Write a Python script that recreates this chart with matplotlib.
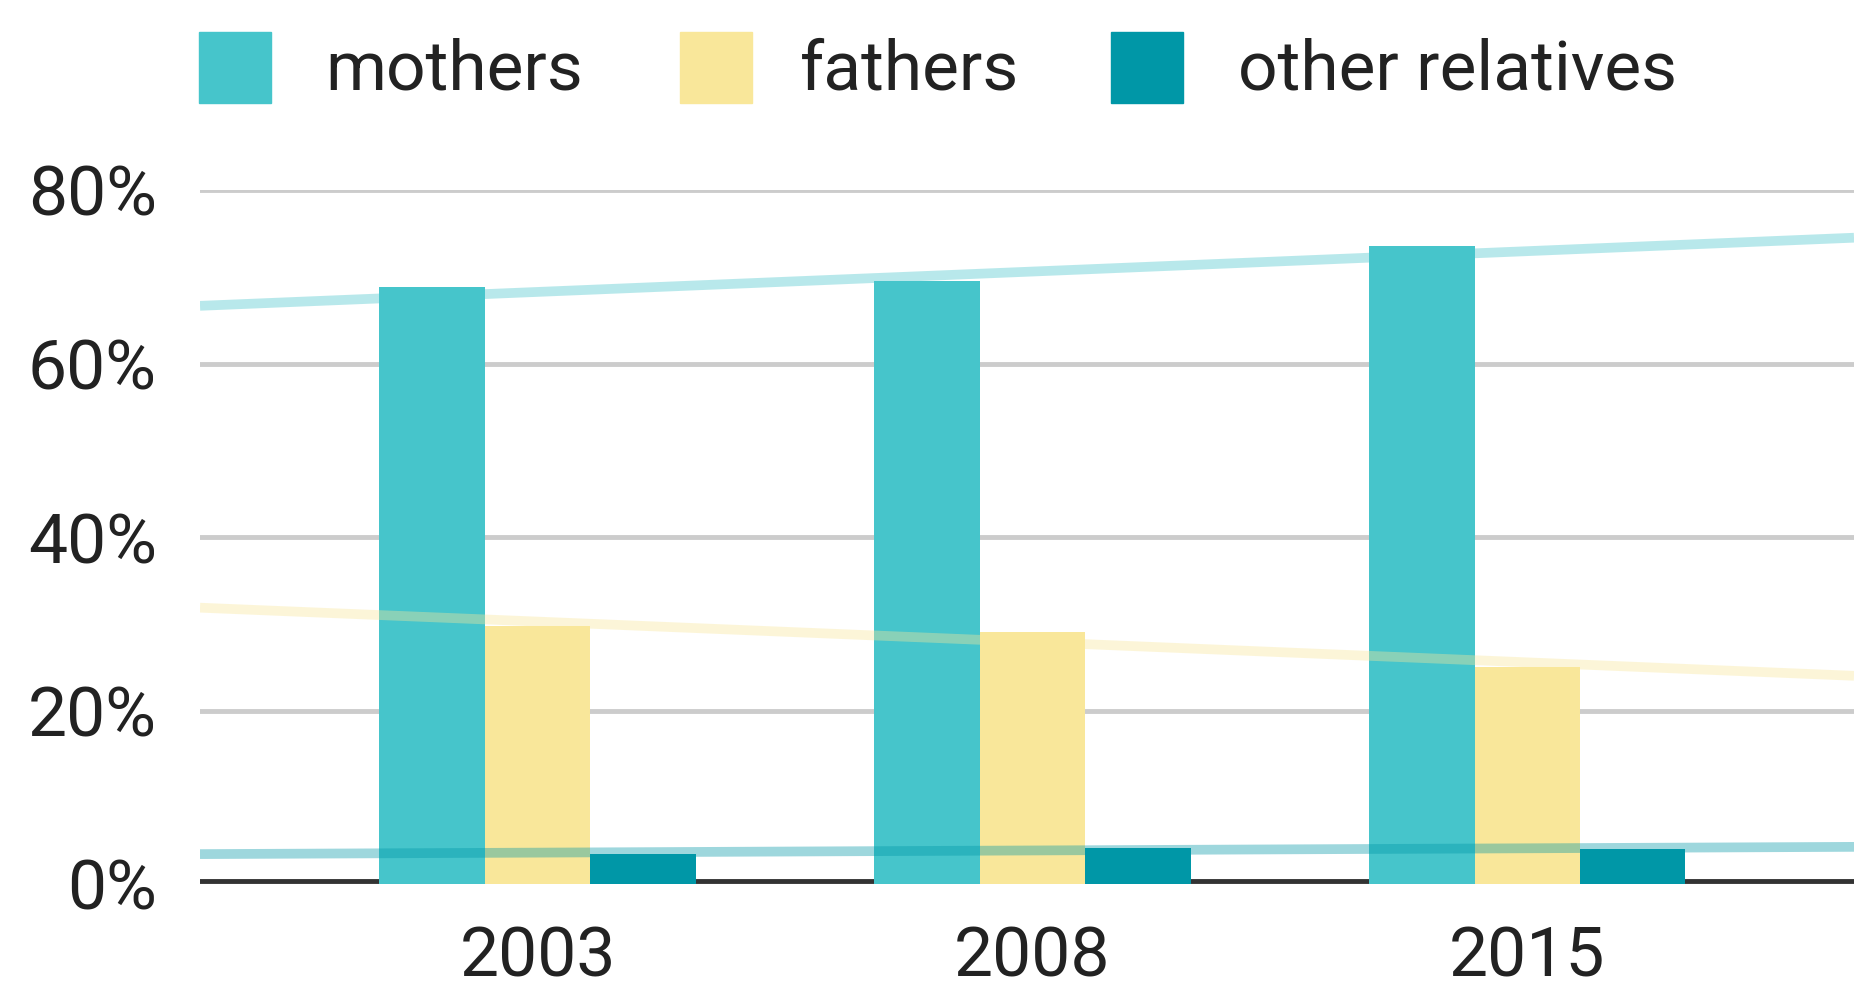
import numpy as np
import matplotlib
matplotlib.use("Agg")
import matplotlib.pyplot as plt
from matplotlib.patches import Rectangle

plt.rcParams["font.family"] = ["Roboto", "DejaVu Sans"]

# ---- data (percent) ----
years = ["2003", "2008", "2015"]
mothers = [68.8, 69.5, 73.5]
fathers = [29.7, 29.0, 25.0]
other_relatives = [3.5, 4.1, 4.0]
series_names = ["mothers", "fathers", "other relatives"]
y_ticks = [0, 20, 40, 60, 80]

colors = ["#46c5cb", "#f9e79a", "#0097a7"]
text_color = "#222222"

W, H = 1854, 989
fig = plt.figure(figsize=(W / 100, H / 100), dpi=100)
ax = fig.add_axes([200 / W, 1 - 884 / H, 1 - 200 / W, (884 - 190) / H])

x = np.arange(len(years))
bw = 0.213
series = [mothers, fathers, other_relatives]
for i, (vals, col) in enumerate(zip(series, colors)):
    ax.bar(x + (i - 1) * bw, vals, width=bw, color=col, zorder=3, linewidth=0)

ax.set_xlim(-0.682, 2.66)
ax.set_ylim(0, 80)

# linear trendlines over the whole plot width
xx = np.array(ax.get_xlim())
for vals, col in zip(series, colors):
    k, b = np.polyfit(x, vals, 1)
    ax.plot(xx, k * xx + b, color=col, alpha=0.38, linewidth=7,
            solid_capstyle="butt", zorder=4)

# grid + baseline
for t in y_ticks[1:]:
    ax.axhline(t, color="#cccccc", linewidth=3.5, zorder=1)
ax.axhline(0.35, color="#333333", linewidth=3.5, zorder=2)

for s in ax.spines.values():
    s.set_visible(False)
ax.set_yticks(y_ticks)
ax.set_yticklabels([f"{t}%" for t in y_ticks])
ax.set_xticks(x)
ax.set_xticklabels(years)
ax.tick_params(axis="both", length=0, labelsize=50, colors=text_color)
ax.tick_params(axis="y", pad=31)
ax.tick_params(axis="x", pad=29)

# legend drawn by hand at the top
sw_x = [199, 680, 1111]
tx_x = [325, 800, 1238]
for name, col, sx, tx in zip(series_names, colors, sw_x, tx_x):
    fig.patches.append(Rectangle((sx / W, 1 - 103 / H), 72 / W, 71 / H,
                                 transform=fig.transFigure, color=col))
    fig.text(tx / W, 1 - 89 / H, name, fontsize=50, color=text_color,
             va="baseline", ha="left")

fig.savefig("out.png", dpi=100)
